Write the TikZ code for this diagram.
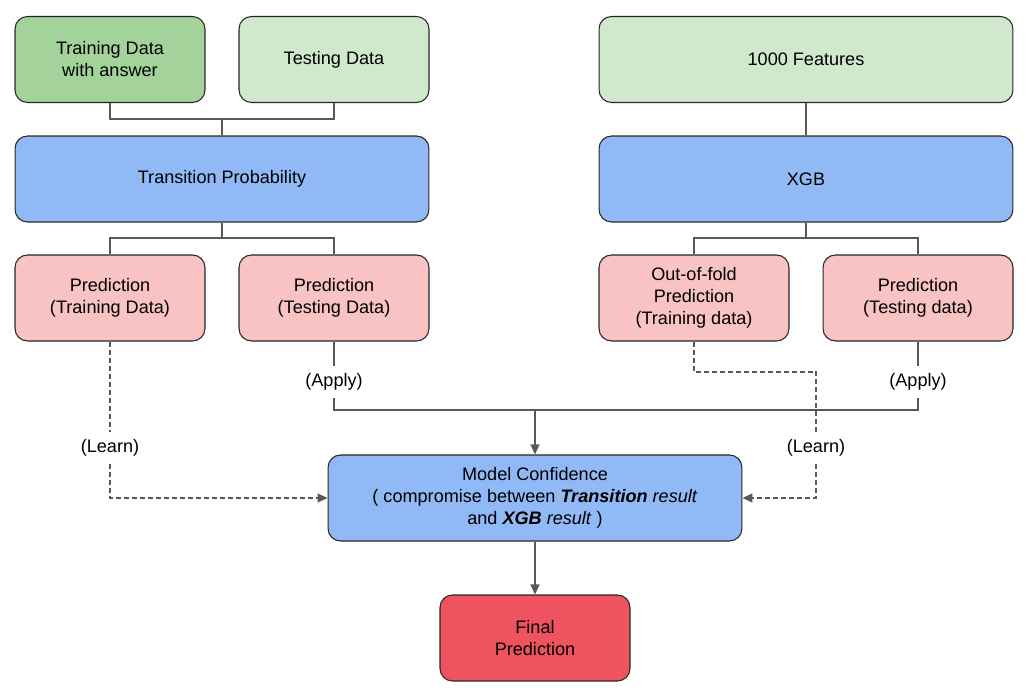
\documentclass[tikz,border=0pt]{standalone}
\usepackage{fontspec}
\setmainfont{Liberation Sans}
\usetikzlibrary{arrows.meta}

\definecolor{dgreen}{HTML}{A3D39B}
\definecolor{lgreen}{HTML}{D0E8CC}
\definecolor{lblue}{HTML}{91B9F5}
\definecolor{lpink}{HTML}{F9C3C3}
\definecolor{dred}{HTML}{EF5360}

\begin{document}
\begin{tikzpicture}[x=0.02cm, y=-0.02cm,
  box/.style={draw=black!85, line width=0.6pt, rounded corners=0.25cm,
    minimum width=3.8cm, minimum height=1.72cm, align=center,
    font=\fontsize{10.3}{12.5}\selectfont},
  widebox/.style={box, minimum width=8.28cm},
  link/.style={draw=black!65, line width=0.7pt},
  learn/.style={link, dash pattern=on 0.1cm off 0.06cm},
  tip/.style={-{Triangle[width=0.18cm,length=0.2cm]}, black!65},
  lbl/.style={inner sep=0.15cm, font=\fontsize{10.3}{12.5}\selectfont}]

\useasboundingbox (0,0) rectangle (1028,696);

% left column
\node[box, fill=dgreen] (train) at (110,59.5) {Training Data\\with answer};
\node[box, fill=lgreen] (test) at (334,59.5) {Testing Data};
\node[widebox, fill=lblue] (trans) at (222,179) {Transition Probability};
\node[box, fill=lpink] (ptrain) at (110,298) {Prediction\\(Training Data)};
\node[box, fill=lpink] (ptest) at (334,298) {Prediction\\(Testing Data)};

% right column
\node[widebox, fill=lgreen] (feat) at (806,59.5) {1000 Features};
\node[widebox, fill=lblue] (xgb) at (806,179) {XGB};
\node[box, fill=lpink] (oof) at (694,298) {Out-of-fold\\Prediction\\(Training data)};
\node[box, fill=lpink] (xtest) at (918,298) {Prediction\\(Testing data)};

% bottom
\node[widebox, fill=lblue] (conf) at (535,498) {Model Confidence\\( compromise between \textbf{\textit{Transition}} \textit{result}\\and \textbf{\textit{XGB}} \textit{result} )};
\node[box, fill=dred] (final) at (535,638) {Final\\Prediction};

% labels
\node[lbl] (apply1) at (334,382) {(Apply)};
\node[lbl] (apply2) at (918,382) {(Apply)};
\node[lbl] (learn1) at (110,448) {(Learn)};
\node[lbl] (learn2) at (816,448) {(Learn)};

\coordinate (j1) at (222,119);
\coordinate (j2) at (222,238);
\coordinate (j3) at (806,238);
\coordinate (j4) at (535,410);
\coordinate (j5) at (816,372);

\draw[link] (train) |- (j1) -| (test);
\draw[link] (j1) -- (trans);
\draw[link] (j2) -| (ptrain);
\draw[link] (j2) -| (ptest);
\draw[link] (trans) -- (j2);

\draw[link] (feat) -- (xgb);
\draw[link] (xgb) -- (j3);
\draw[link] (j3) -| (oof);
\draw[link] (j3) -| (xtest);

\draw[link] (ptest) -- (apply1);
\draw[link] (xtest) -- (apply2);
\draw[link] (apply1) |- (j4) -| (apply2);
\draw[link, tip] (j4) -- (conf);

\draw[learn] (ptrain) -- (learn1);
\draw[learn, tip] (learn1) |- (conf);
\draw[learn] (oof) |- (j5) -- (learn2);
\draw[learn, tip] (learn2) |- (conf);

\draw[link, tip] (conf) -- (final);

\end{tikzpicture}
\end{document}
